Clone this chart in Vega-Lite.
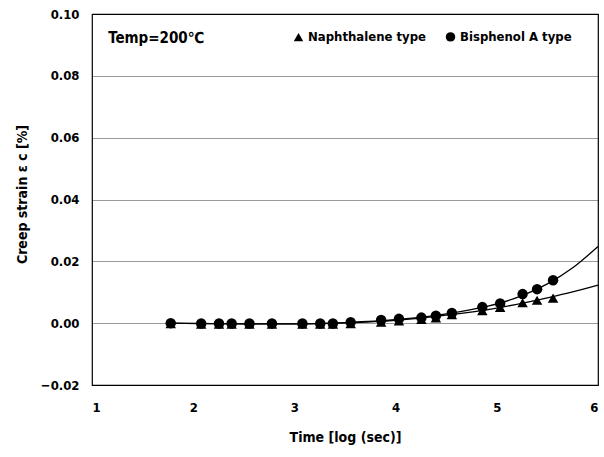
{
  "$schema": "https://vega.github.io/schema/vega-lite/v6.json",
  "autosize": "none",
  "padding": {"left": 92, "top": 14, "right": 6, "bottom": 72},
  "width": 506,
  "height": 371,
  "background": "white",
  "config": {
    "view": {"stroke": "black", "strokeWidth": 1.2},
    "font": "DejaVu Sans Condensed",
    "axis": {
      "labelFont": "DejaVu Sans Condensed",
      "labelFontWeight": "bold",
      "labelFontSize": 13,
      "labelColor": "black",
      "titleFont": "DejaVu Sans Condensed",
      "titleFontWeight": "bold",
      "titleFontSize": 14,
      "titleColor": "black",
      "domain": false,
      "ticks": false
    }
  },
  "datasets": {
    "pts": [
      {"t": 1.778, "s": "Naphthalene type", "e": -0.0002},
      {"t": 2.079, "s": "Naphthalene type", "e": -0.0003},
      {"t": 2.255, "s": "Naphthalene type", "e": -0.0003},
      {"t": 2.380, "s": "Naphthalene type", "e": -0.0003},
      {"t": 2.556, "s": "Naphthalene type", "e": -0.0003},
      {"t": 2.778, "s": "Naphthalene type", "e": -0.0003},
      {"t": 3.079, "s": "Naphthalene type", "e": -0.0003},
      {"t": 3.255, "s": "Naphthalene type", "e": -0.0003},
      {"t": 3.380, "s": "Naphthalene type", "e": -0.0003},
      {"t": 3.556, "s": "Naphthalene type", "e": -0.0002},
      {"t": 3.857, "s": "Naphthalene type", "e": 0.0003},
      {"t": 4.033, "s": "Naphthalene type", "e": 0.0007},
      {"t": 4.255, "s": "Naphthalene type", "e": 0.0012},
      {"t": 4.398, "s": "Naphthalene type", "e": 0.0017},
      {"t": 4.556, "s": "Naphthalene type", "e": 0.0027},
      {"t": 4.857, "s": "Naphthalene type", "e": 0.0040},
      {"t": 5.033, "s": "Naphthalene type", "e": 0.0051},
      {"t": 5.255, "s": "Naphthalene type", "e": 0.0066},
      {"t": 5.398, "s": "Naphthalene type", "e": 0.0074},
      {"t": 5.556, "s": "Naphthalene type", "e": 0.0081},
      {"t": 1.778, "s": "Bisphenol A type", "e": 0.0000},
      {"t": 2.079, "s": "Bisphenol A type", "e": -0.0001},
      {"t": 2.255, "s": "Bisphenol A type", "e": -0.0001},
      {"t": 2.380, "s": "Bisphenol A type", "e": -0.0001},
      {"t": 2.556, "s": "Bisphenol A type", "e": -0.0001},
      {"t": 2.778, "s": "Bisphenol A type", "e": -0.0001},
      {"t": 3.079, "s": "Bisphenol A type", "e": -0.0001},
      {"t": 3.255, "s": "Bisphenol A type", "e": -0.0001},
      {"t": 3.380, "s": "Bisphenol A type", "e": -0.0001},
      {"t": 3.556, "s": "Bisphenol A type", "e": 0.0003},
      {"t": 3.857, "s": "Bisphenol A type", "e": 0.0010},
      {"t": 4.033, "s": "Bisphenol A type", "e": 0.0014},
      {"t": 4.255, "s": "Bisphenol A type", "e": 0.0018},
      {"t": 4.398, "s": "Bisphenol A type", "e": 0.0024},
      {"t": 4.556, "s": "Bisphenol A type", "e": 0.0033},
      {"t": 4.857, "s": "Bisphenol A type", "e": 0.0052},
      {"t": 5.033, "s": "Bisphenol A type", "e": 0.0064},
      {"t": 5.255, "s": "Bisphenol A type", "e": 0.0094},
      {"t": 5.398, "s": "Bisphenol A type", "e": 0.0110},
      {"t": 5.556, "s": "Bisphenol A type", "e": 0.0139}
    ],
    "fit": [
      {"t": 1.778, "s": "Naphthalene type", "e": 0.0},
      {"t": 2.5, "s": "Naphthalene type", "e": -0.0002},
      {"t": 3.0, "s": "Naphthalene type", "e": -0.0002},
      {"t": 3.5, "s": "Naphthalene type", "e": 0.0001},
      {"t": 4.0, "s": "Naphthalene type", "e": 0.0009},
      {"t": 4.5, "s": "Naphthalene type", "e": 0.0026},
      {"t": 5.0, "s": "Naphthalene type", "e": 0.0049},
      {"t": 5.5, "s": "Naphthalene type", "e": 0.0082},
      {"t": 5.75, "s": "Naphthalene type", "e": 0.0101},
      {"t": 6.0, "s": "Naphthalene type", "e": 0.0123},
      {"t": 1.778, "s": "Bisphenol A type", "e": 0.0},
      {"t": 2.5, "s": "Bisphenol A type", "e": -0.0002},
      {"t": 3.0, "s": "Bisphenol A type", "e": -0.0002},
      {"t": 3.5, "s": "Bisphenol A type", "e": 0.0002},
      {"t": 4.0, "s": "Bisphenol A type", "e": 0.0011},
      {"t": 4.5, "s": "Bisphenol A type", "e": 0.0030},
      {"t": 5.0, "s": "Bisphenol A type", "e": 0.0062},
      {"t": 5.25, "s": "Bisphenol A type", "e": 0.0089},
      {"t": 5.5, "s": "Bisphenol A type", "e": 0.0127},
      {"t": 5.75, "s": "Bisphenol A type", "e": 0.0179},
      {"t": 6.0, "s": "Bisphenol A type", "e": 0.0248}
    ],
    "notes": [
      {"t": 1.16, "e": 0.0923, "label": "Temp=200℃"}
    ]
  },
  "layer": [
    {
      "data": {"name": "fit"},
      "mark": {"type": "line", "color": "black", "strokeWidth": 1.3, "interpolate": "monotone"},
      "encoding": {
        "x": {
          "field": "t", "type": "quantitative",
          "scale": {"domain": [1, 6], "nice": false, "zero": false},
          "axis": {"values": [1, 2, 3, 4, 5, 6], "format": "d", "grid": false, "labelPadding": 16, "title": "Time [log (sec)]", "titlePadding": 16}
        },
        "y": {
          "field": "e", "type": "quantitative",
          "scale": {"domain": [-0.02, 0.1], "nice": false, "zero": false},
          "axis": {"values": [-0.02, 0, 0.02, 0.04, 0.06, 0.08, 0.1], "format": ".2f", "grid": true, "gridColor": "black", "gridDash": [1, 1], "gridWidth": 0.8, "labelPadding": 13, "title": "Creep strain  ε c  [%]", "titleX": -70, "titleY": 180, "titleBaseline": "middle", "titleAngle": -90, "titleAlign": "center"}
        },
        "detail": {"field": "s"}
      }
    },
    {
      "data": {"name": "pts"},
      "mark": {"type": "point", "filled": true, "color": "black", "opacity": 1, "size": 110},
      "encoding": {
        "x": {"field": "t", "type": "quantitative"},
        "y": {"field": "e", "type": "quantitative"},
        "shape": {
          "field": "s", "type": "nominal",
          "scale": {"domain": ["Naphthalene type", "Bisphenol A type"], "range": ["triangle-up", "circle"]},
          "legend": {
            "title": null, "orient": "none", "legendX": 200, "legendY": 16, "direction": "horizontal", "padding": 0,
            "labelFont": "DejaVu Sans Condensed", "labelFontWeight": "bold", "labelFontSize": 13, "labelColor": "black",
            "symbolFillColor": "black", "symbolStrokeColor": "black", "symbolSize": 90, "symbolOpacity": 1,
            "columnPadding": 16, "labelOffset": 3
          }
        }
      }
    },
    {
      "data": {"name": "notes"},
      "mark": {"type": "text", "align": "left", "baseline": "middle", "font": "DejaVu Sans Condensed", "fontWeight": "bold", "fontSize": 15, "color": "black"},
      "encoding": {
        "x": {"field": "t", "type": "quantitative"},
        "y": {"field": "e", "type": "quantitative"},
        "text": {"field": "label"}
      }
    }
  ]
}
